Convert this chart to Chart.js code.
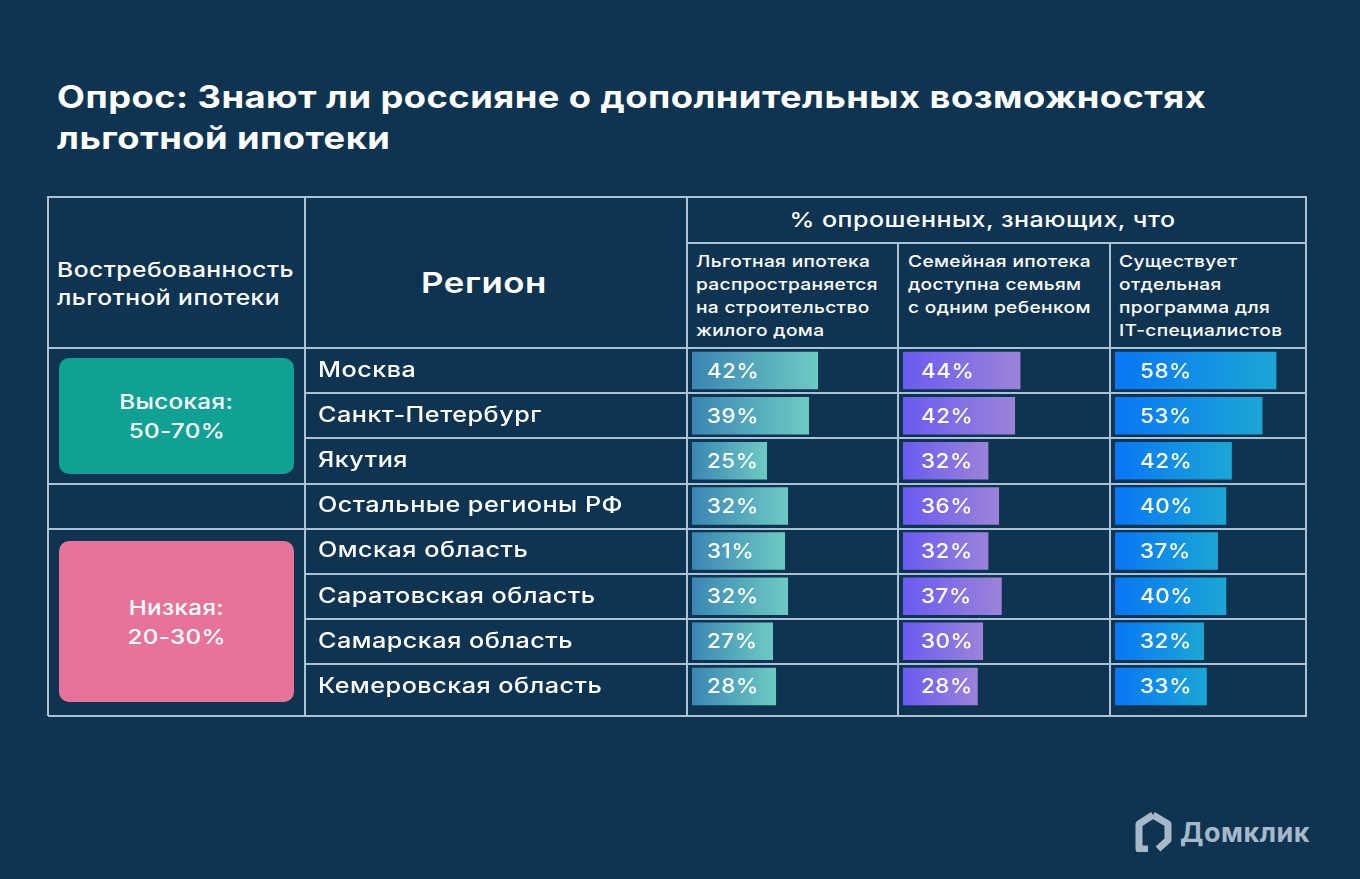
<!DOCTYPE html>
<html lang="ru">
<head>
<meta charset="utf-8">
<script src="https://cdn.jsdelivr.net/npm/chart.js@4.4.1/dist/chart.umd.min.js"></script>
<style>
  html, body { margin: 0; padding: 0; }
  body {
    width: 1360px; height: 879px; position: relative; overflow: hidden;
    background: #0e3451; color: #fff;
    font-family: Inter, "DejaVu Sans", sans-serif;
  }
  .abs { position: absolute; white-space: nowrap; }
  .wide { transform-origin: left top; }
  .wideC { transform-origin: center top; }
  #title { left: 57px; top: 76px; font-size: 31px; font-weight: 700; line-height: 41px; letter-spacing: 0.4px; transform: scaleX(1.17); }
  .line { position: absolute; background: #a9c2d6; }
  .hdr { font-size: 20.5px; font-weight: 500; line-height: 28px; letter-spacing: 0.4px; transform: scaleX(1.2); }
  .sub { font-size: 16.5px; font-weight: 500; line-height: 23px; letter-spacing: 0.3px; transform: scaleX(1.16); }
  .badge { border-radius: 10px; display: flex; flex-direction: column; align-items: center; justify-content: center;
           font-size: 20.5px; font-weight: 500; line-height: 29px; letter-spacing: 0.3px; }
  .badge span { transform: scaleX(1.18); }
  canvas { position: absolute; }
  #logo { left: 1134px; top: 812px; display: flex; align-items: center; color: #a6b9ca; font-size: 27px; font-weight: 700; letter-spacing: 0.5px; }
</style>
</head>
<body>
<div id="title" class="abs wide">Опрос: Знают ли россияне о дополнительных возможностях<br>льготной ипотеки</div>

<div class="abs hdr wide" style="left:57px; top:256px;">Востребованность<br>льготной ипотеки</div>
<div class="abs wideC" style="left:293px; width:382px; top:265px; text-align:center; font-size:29px; font-weight:600; letter-spacing:0.5px; transform:scaleX(1.2);">Регион</div>
<div class="abs hdr wideC" style="left:673px; width:619px; top:206px; text-align:center; font-size:20.5px; transform:scaleX(1.22);">% опрошенных, знающих, что</div>
<div id="subs"></div>
<div id="badges"></div>
<div id="lines"></div>

<canvas id="c1" width="591" height="361" style="left:306px; top:348px;"></canvas>
<canvas id="c2" width="210" height="361" style="left:899px; top:348px;"></canvas>
<canvas id="c3" width="194" height="361" style="left:1111px; top:348px;"></canvas>

<div id="logo" class="abs">
  <svg width="38" height="40" viewBox="0 0 38 40" style="margin-right:8px">
    <path d="M19 3 L34 12 L34 28 L24 37 M14 37 L5 37 L5 12 L19 3" fill="none" stroke="#a6b9ca" stroke-width="7" stroke-linejoin="round"/>
  </svg>
  <span>Домклик</span>
</div>

<script>
const regions = ['Москва', 'Санкт-Петербург', 'Якутия', 'Остальные регионы РФ',
  'Омская область', 'Саратовская область', 'Самарская область', 'Кемеровская область'];
const construction = [42, 39, 25, 32, 31, 32, 27, 28];
const family = [44, 42, 32, 36, 32, 37, 30, 28];
const itProgram = [58, 53, 42, 40, 37, 40, 32, 33];
const columnHeaders = [
  ['Льготная ипотека', 'распространяется', 'на строительство', 'жилого дома'],
  ['Семейная ипотека', 'доступна семьям', 'с одним ребенком'],
  ['Существует', 'отдельная', 'программа для', 'IT-специалистов']
];
const demandGroups = [['Высокая:', '50-70%'], ['Низкая:', '20-30%']];

// --- table decoration (html) ---
const subLeft = [696, 908, 1119];
document.getElementById('subs').innerHTML = columnHeaders.map((lines, i) =>
  `<div class="abs sub wide" style="left:${subLeft[i]}px; top:250px;">${lines.join('<br>')}</div>`).join('');

const badgeBoxes = [
  { top: 358, height: 116, color: '#10a195' },
  { top: 541, height: 161, color: '#e8739a' }
];
document.getElementById('badges').innerHTML = demandGroups.map((g, i) =>
  `<div class="abs badge" style="left:59px; width:235px; top:${badgeBoxes[i].top}px; height:${badgeBoxes[i].height}px; background:${badgeBoxes[i].color};">` +
  g.map(t => `<span>${t}</span>`).join('') + '</div>').join('');

const hLines = [[48, 1307, 197], [687, 1307, 243], [48, 1307, 348], [305, 1307, 393], [305, 1307, 438],
  [48, 1307, 484], [48, 1307, 529], [305, 1307, 574], [305, 1307, 619], [305, 1307, 664], [48, 1307, 716]];
const vLines = [[48, 197, 717], [305, 197, 717], [687, 197, 717], [898, 243, 717], [1110, 243, 717], [1306, 197, 717]];
document.getElementById('lines').innerHTML =
  hLines.map(([a, b, y]) => `<div class="line" style="left:${a}px; width:${b - a}px; top:${y - 1}px; height:2px;"></div>`).join('') +
  vLines.map(([x, a, b]) => `<div class="line" style="left:${x - 1}px; width:2px; top:${a - 1}px; height:${b - a}px;"></div>`).join('');

// --- bars (Chart.js) ---
const FONT = 'Inter, "DejaVu Sans", sans-serif';

// percentage text inside each bar, stretched a bit like the original typeface
const valueLabels = {
  id: 'valueLabels',
  afterDatasetsDraw(chart, args, opts) {
    const ctx = chart.ctx;
    const ds = chart.data.datasets[0];
    ctx.save();
    ctx.font = `500 20px ${FONT}`;
    ctx.fillStyle = '#ffffff';
    ctx.textBaseline = 'middle';
    ctx.letterSpacing = '0.5px';
    chart.getDatasetMeta(0).data.forEach((bar, i) => {
      ctx.save();
      ctx.translate(bar.base + opts.offset, bar.y + 1);
      ctx.scale(1.12, 1);
      ctx.fillText(ds.data[i] + '%', 0, 0);
      ctx.restore();
    });
    ctx.restore();
  }
};

// widen the region tick labels (only the y axis is drawn before the datasets)
const wideTicks = {
  id: 'wideTicks',
  beforeDraw(chart, args, opts) {
    if (!opts.stretch) return;
    const ctx = chart.ctx;
    const x0 = chart.scales.y.left;
    ctx.save();
    ctx.translate(x0, 0);
    ctx.scale(opts.stretch, 1);
    ctx.translate(-x0, 0);
    ctx.letterSpacing = '0.4px';
  },
  beforeDatasetsDraw(chart, args, opts) {
    if (opts.stretch) chart.ctx.restore();
  }
};

function makeBars(id, values, from, to, max, padLeft, labelOffset, showRegions) {
  return new Chart(document.getElementById(id), {
    type: 'bar',
    data: {
      labels: regions,
      datasets: [{
        data: values,
        borderWidth: 0,
        barPercentage: 0.83,
        categoryPercentage: 1,
        backgroundColor(c) {
          const chart = c.chart;
          if (c.dataIndex === undefined || !chart.chartArea) return from;
          const x = chart.scales.x;
          const g = chart.ctx.createLinearGradient(x.getPixelForValue(0), 0, x.getPixelForValue(values[c.dataIndex]), 0);
          g.addColorStop(0, from);
          g.addColorStop(1, to);
          return g;
        }
      }]
    },
    options: {
      indexAxis: 'y',
      responsive: false,
      animation: false,
      events: [],
      layout: { padding: { left: padLeft, right: 0, top: 0, bottom: 0 } },
      plugins: {
        legend: { display: false },
        tooltip: { enabled: false },
        valueLabels: { offset: labelOffset },
        wideTicks: { stretch: showRegions ? 1.2 : 0 }
      },
      scales: {
        x: { display: false, min: 0, max: max },
        y: {
          display: showRegions,
          grid: { display: false },
          border: { display: false },
          afterFit(scale) {
            if (!showRegions) return;
            scale.width = 374;
            scale.paddingTop = 0;
            scale.paddingBottom = 0;
          },
          ticks: {
            crossAlign: 'far', padding: 0, autoSkip: false, color: '#ffffff',
            font: { family: FONT, size: 21, weight: '500' }
          }
        }
      }
    },
    plugins: [valueLabels, wideTicks]
  });
}

makeBars('c1', construction, '#3a86b3', '#6dcac3', 68.3, 12, 15, true);
makeBars('c2', family, '#6a5bf1', '#9c83d8', 77.2, 4, 18, false);
makeBars('c3', itProgram, '#0876f6', '#1ba7d5', 68.3, 4, 25, false);
</script>
</body>
</html>
